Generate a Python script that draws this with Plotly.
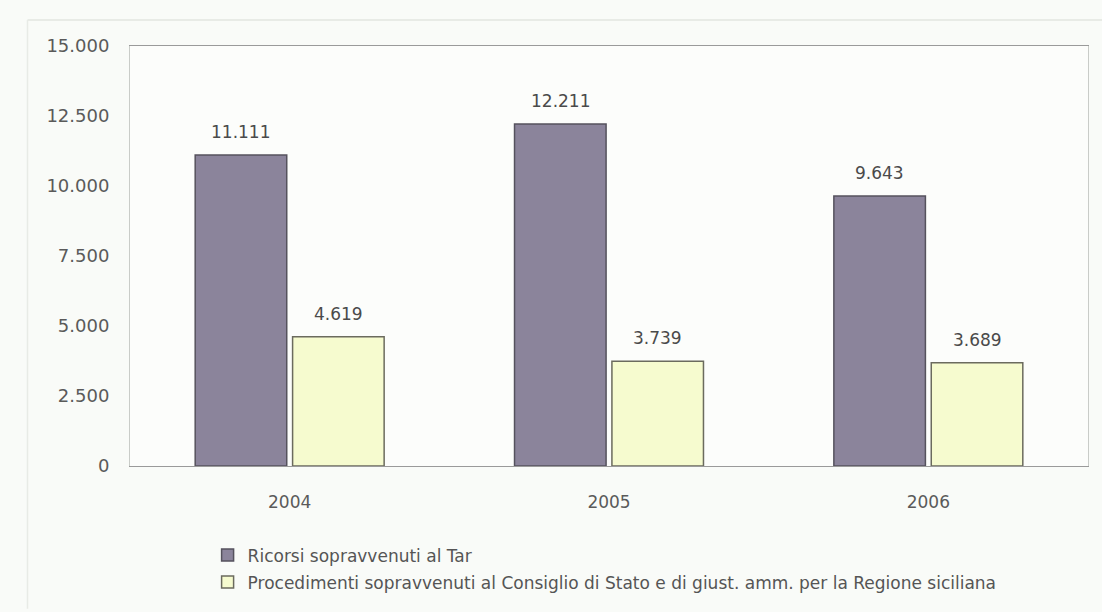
import plotly.graph_objects as go

years = ["2004", "2005", "2006"]
ricorsi_tar = [11111, 12211, 9643]
procedimenti_cds = [4619, 3739, 3689]
series_names = [
    "Ricorsi sopravvenuti al Tar",
    "Procedimenti sopravvenuti al Consiglio di Stato e di giust. amm. per la Regione siciliana",
]
y_ticks = [0, 2500, 5000, 7500, 10000, 12500, 15000]
y_tick_labels = ["0", "2.500", "5.000", "7.500", "10.000", "12.500", "15.000"]


def fmt(v):
    return f"{v:,}".replace(",", ".")


FONT = "DejaVu Sans, Verdana, sans-serif"
TEXT = "#5a5a5a"
BARGAP = 0.39
PLOT_W = 1102 - 130 - 14

fig = go.Figure()
fig.add_trace(go.Bar(
    x=years, y=ricorsi_tar, name=series_names[0], legendgroup="a",
    marker=dict(color="#8b849b", line=dict(color="#55525d", width=1.5)),
))
fig.add_trace(go.Bar(
    x=years, y=procedimenti_cds, name=series_names[1], legendgroup="b",
    marker=dict(color="#f6fbcf", line=dict(color="#6b6b5e", width=1.5)),
))

# value labels above each bar, offset to the bar centres within each group
half_bar = (1 - BARGAP) * PLOT_W / len(years) / 4
for series, shift in ((ricorsi_tar, -half_bar), (procedimenti_cds, half_bar)):
    for idx, v in enumerate(series):
        fig.add_annotation(
            x=idx, y=v, text=fmt(v), showarrow=False,
            xshift=shift, yshift=11, yanchor="bottom",
            font=dict(size=17, color="#4a4a4a", family=FONT),
        )

# faint outer frame around the figure area
fig.add_shape(type="line", xref="paper", yref="paper", x0=-0.107, x1=1.02, y0=1.062, y1=1.062,
              line=dict(color="#e2e6e0", width=1.5))
fig.add_shape(type="line", xref="paper", yref="paper", x0=-0.107, x1=-0.107, y0=1.062, y1=-0.34,
              line=dict(color="#e8ebe6", width=1.5))

fig.update_layout(
    width=1102, height=612,
    margin=dict(l=130, r=14, t=46, b=143),
    paper_bgcolor="#f9fbf8",
    plot_bgcolor="#fcfdfb",
    barmode="group",
    bargap=BARGAP,
    bargroupgap=0.06,
    font=dict(family=FONT, color=TEXT),
    legend=dict(
        orientation="v", x=0.081, y=-0.17, xanchor="left", yanchor="top",
        font=dict(size=17, color="#555555", family=FONT),
        bgcolor="rgba(0,0,0,0)", itemwidth=30, tracegroupgap=2,
    ),
    showlegend=True,
)
fig.update_xaxes(
    type="category", range=[-0.5, len(years) - 0.5],
    showline=True, linecolor="#9a9a9a", linewidth=1, mirror=True,
    tickfont=dict(size=17, color=TEXT), ticks="", ticklabelstandoff=21,
)
fig.update_yaxes(
    range=[0, 15000], tickvals=y_ticks, ticktext=y_tick_labels,
    showgrid=False, zeroline=False,
    showline=True, linecolor="#c9ccc8", linewidth=1, mirror=True,
    tickfont=dict(size=18, color=TEXT), ticks="", ticklabelstandoff=16,
)

fig.write_html("out.html")
